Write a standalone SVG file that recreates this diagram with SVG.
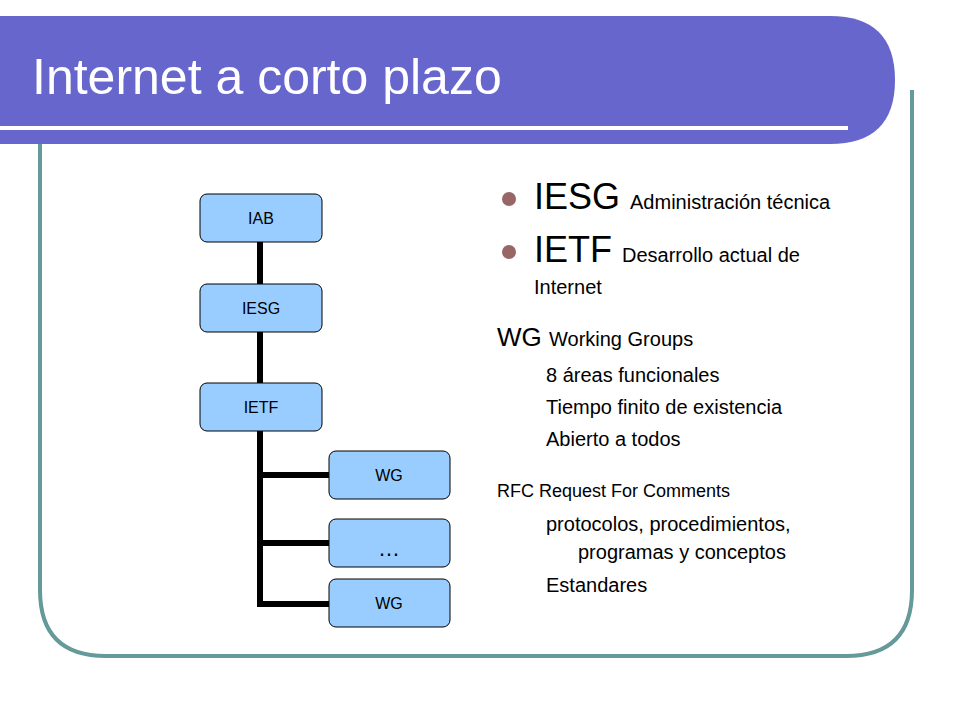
<svg xmlns="http://www.w3.org/2000/svg" width="960" height="720" viewBox="0 0 960 720">
<style>
.box{fill:#99ccff;stroke:#000;stroke-width:1}
.bt{font-family:"Liberation Sans",Arial,sans-serif;font-size:16px;text-anchor:middle;fill:#000}
.t{font-family:"Liberation Sans",Arial,sans-serif;fill:#000}
</style>
<rect width="960" height="720" fill="#fff"/>
<path d="M40 140 V590 Q40 656 106 656 H846 Q912 656 912 590 V90" fill="none" stroke="#669999" stroke-width="4"/>
<path d="M0 16 H830 Q895 16 895 80 Q895 144 830 144 H0 Z" fill="#6666cc"/>
<rect x="0" y="126" width="848" height="4" fill="#fff"/>
<text x="32" y="94" class="t" font-size="50" fill="#fff" style="fill:#fff">Internet a corto plazo</text>
<g id="connectors" stroke="#000" stroke-width="6" fill="none">
<path d="M260 242 V284 M260 332 V383 M260 431 V604 H329 M260 475 H329 M260 543 H329"/>
</g>
<g id="IAB"><rect class="box" x="200" y="194" width="122" height="48" rx="7"/><text class="bt" x="261" y="224">IAB</text></g>
<g id="IESG"><rect class="box" x="200" y="284" width="122" height="48" rx="7"/><text class="bt" x="261" y="314">IESG</text></g>
<g id="IETF"><rect class="box" x="200" y="383" width="122" height="48" rx="7"/><text class="bt" x="261" y="413">IETF</text></g>
<g id="WG1"><rect class="box" x="329" y="451" width="121" height="48" rx="7"/><text class="bt" x="389" y="481">WG</text></g>
<g id="dots"><rect class="box" x="329" y="519" width="121" height="48" rx="7"/><text class="bt" x="389" y="556" style="font-size:22px">…</text></g>
<g id="WG2"><rect class="box" x="329" y="579" width="121" height="48" rx="7"/><text class="bt" x="389" y="609">WG</text></g>
<g id="text">
<circle cx="509" cy="199" r="7" fill="#996666"/>
<circle cx="509" cy="252" r="7" fill="#996666"/>
<text class="t" x="534" y="209" font-size="36">IESG <tspan font-size="20">Administración técnica</tspan></text>
<text class="t" x="534" y="262" font-size="36">IETF <tspan font-size="20">Desarrollo actual de</tspan></text>
<text class="t" x="534" y="294" font-size="20">Internet</text>
<text class="t" x="497" y="346" font-size="26">WG <tspan font-size="20">Working Groups</tspan></text>
<text class="t" x="546" y="382" font-size="20">8 áreas funcionales</text>
<text class="t" x="546" y="414" font-size="20">Tiempo finito de existencia</text>
<text class="t" x="546" y="446" font-size="20">Abierto a todos</text>
<text class="t" x="497" y="497" font-size="18">RFC Request For Comments</text>
<text class="t" x="546" y="531" font-size="20">protocolos, procedimientos,</text>
<text class="t" x="578" y="559" font-size="20">programas y conceptos</text>
<text class="t" x="546" y="592" font-size="20">Estandares</text>
</g>
</svg>
